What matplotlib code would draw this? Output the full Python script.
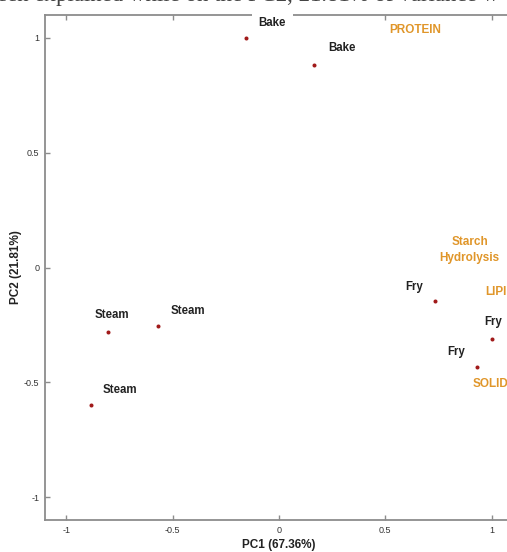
# encoding: utf-8

# PCA score plot (PC1 vs PC2) of cooking methods with variable labels.

import matplotlib
matplotlib.use("Agg")
import matplotlib.pyplot as plt

# sample scores
sample_names = ["Bake", "Bake", "Fry", "Fry", "Fry", "Steam", "Steam", "Steam"]
pc1_scores = [-0.155, 0.163, 0.734, 0.999, 0.932, -0.806, -0.570, -0.886]
pc2_scores = [0.998, 0.882, -0.147, -0.310, -0.435, -0.281, -0.255, -0.601]

# variable labels (centre of text, in PC units)
var_names = ["PROTEIN", "Starch\nHydrolysis", "LIPID", "SOLID"]
var_pc1 = [0.642, 0.896, 1.040, 0.992]
var_pc2 = [1.036, 0.076, -0.105, -0.506]

x_ticks = [-1, -0.5, 0, 0.5, 1]
y_ticks = [-1, -0.5, 0, 0.5, 1]
x_label = "PC1 (67.36%)"
y_label = "PC2 (21.81%)"
caption = "een explained while on the PC2, 21.81% of variance w"

# label offsets from each point, in points
label_offsets = [(19, 11), (20, 12), (-15, 10), (1, 12), (-15, 11),
                 (3, 12), (22, 11), (21, 11)]

SPINE = "#8c8c8c"
DOT = "#a11a1a"
ORANGE = "#e0962a"
FONT = "Liberation Sans"


def main():
    fig = plt.figure(figsize=(5.07, 5.52), dpi=100)
    ax = fig.add_axes([45 / 507, 32 / 552, 468 / 507, 505 / 552])

    ax.plot(pc1_scores, pc2_scores, "o", color=DOT, markersize=2.9,
            markeredgewidth=0, zorder=3)

    for i, name in enumerate(sample_names):
        box = None
        if i == 0:
            # first Bake label sits on the top frame and hides it
            box = dict(facecolor="white", edgecolor="none", pad=5)
        ax.annotate(name, (pc1_scores[i], pc2_scores[i]),
                    textcoords="offset points", xytext=label_offsets[i],
                    ha="center", va="center", fontsize=8.3,
                    fontweight="bold", family=FONT, color="#222222",
                    bbox=box, annotation_clip=False, zorder=5)

    for name, x, y in zip(var_names, var_pc1, var_pc2):
        ax.text(x, y, name, ha="center", va="center", fontsize=8.5,
                fontweight="bold", family=FONT, color=ORANGE,
                linespacing=1.45, clip_on=False, zorder=4)

    ax.set_xlim(-1.1, 1.1)
    ax.set_ylim(-1.1, 1.1)
    ax.set_xticks(x_ticks)
    ax.set_yticks(y_ticks)
    ax.set_xticklabels(["%g" % t for t in x_ticks])
    ax.set_yticklabels(["%g" % t for t in y_ticks])
    ax.tick_params(direction="in", length=3.5, width=1, color=SPINE,
                   labelsize=6.5, labelcolor="#333333", top=True, right=True,
                   pad=4)
    for lab in ax.get_xticklabels() + ax.get_yticklabels():
        lab.set_family(FONT)
    for s in ax.spines.values():
        s.set_color(SPINE)
        s.set_linewidth(1.3)

    ax.set_xlabel(x_label, fontsize=8.5, fontweight="bold", family=FONT,
                  color="#222222", labelpad=3)
    ax.set_ylabel(y_label, fontsize=8.5, fontweight="bold", family=FONT,
                  color="#222222", labelpad=1.5)

    # caption of the source page, cut by the top edge
    fig.text(-0.006, 1 - 1 / 552, caption, ha="left", va="baseline",
             fontsize=16.5, family="Liberation Serif", color="#444444")

    fig.savefig("out.png", dpi=100)


if __name__ == '__main__':
    main()
